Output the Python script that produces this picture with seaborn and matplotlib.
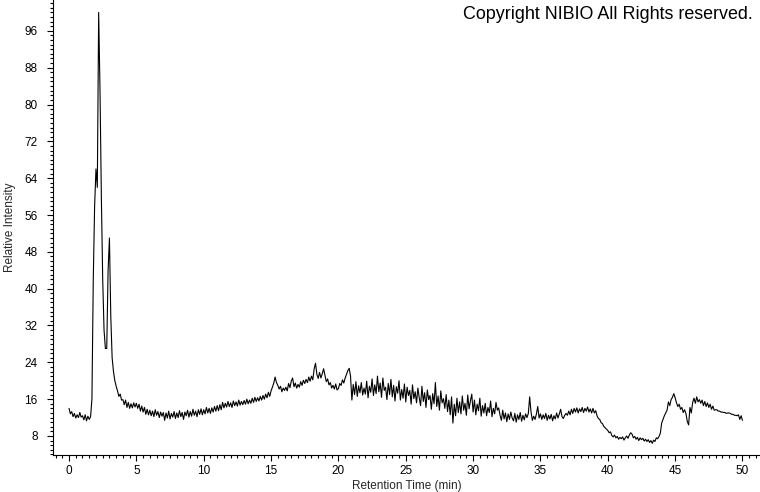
import numpy as np
import pandas as pd
import seaborn as sns
import matplotlib.pyplot as plt
from matplotlib.ticker import MultipleLocator

# retention time grid of the detector (0.1 min steps, 0 .. 50 min)
time_min = np.round(np.arange(0, 50.05, 0.1), 1)

# relative intensity, one row per minute
intensity = [
    14.0, 12.8, 13.3, 12.2, 12.9, 11.9, 12.6, 12.0, 13.1, 12.1,   # 0
    12.4, 11.5, 12.6, 11.3, 12.3, 11.6, 12.2, 16.0, 42.0, 58.0,   # 1
    66.0, 62.0, 100.0, 83.0, 60.0, 42.0, 31.0, 27.0, 27.0, 44.0,  # 2
    51.0, 34.0, 25.0, 22.0, 20.0, 18.8, 17.8, 16.6, 17.1, 15.8,   # 3
    15.9, 14.8, 15.8, 14.2, 15.3, 14.0, 15.0, 14.1, 15.2, 14.3,   # 4
    15.1, 14.0, 14.9, 13.4, 14.5, 13.2, 14.2, 12.7, 13.8, 12.6,   # 5
    13.6, 12.4, 13.4, 12.2, 13.7, 12.5, 13.3, 12.0, 13.2, 12.3,   # 6
    13.1, 11.4, 13.0, 11.9, 13.4, 11.7, 12.9, 12.1, 13.3, 11.8,   # 7
    13.0, 12.0, 13.5, 12.2, 13.1, 11.6, 13.2, 12.4, 13.6, 12.1,   # 8
    13.3, 12.3, 13.8, 12.5, 13.4, 12.2, 13.7, 12.7, 13.9, 12.6,   # 9
    13.7, 12.8, 14.2, 13.0, 14.0, 12.9, 14.1, 13.2, 14.4, 13.4,   # 10
    14.6, 13.5, 14.8, 13.7, 15.3, 14.1, 15.1, 14.3, 15.5, 14.4,   # 11
    15.2, 14.2, 15.6, 14.6, 15.4, 14.5, 15.8, 14.7, 15.5, 14.8,   # 12
    15.7, 14.9, 16.0, 15.0, 15.8, 15.1, 16.2, 15.3, 16.4, 15.5,   # 13
    16.3, 15.6, 16.6, 15.8, 16.8, 16.0, 17.1, 16.3, 17.5, 16.6,   # 14
    17.8, 18.6, 19.5, 20.8, 19.6, 19.0, 18.2, 18.8, 17.6, 18.4,   # 15
    17.9, 18.6, 17.8, 19.4, 18.5, 19.9, 20.6, 18.7, 19.5, 18.4,   # 16
    19.2, 18.6, 19.8, 19.0, 20.1, 19.4, 20.3, 19.6, 20.8, 19.9,   # 17
    21.0, 20.2, 22.6, 23.8, 21.4, 20.5, 21.8, 20.6, 21.5, 22.6,   # 18
    21.2, 19.8, 20.4, 19.1, 19.6, 18.4, 19.0, 18.2, 19.3, 18.0,   # 19
    18.3, 19.4, 19.0, 20.2, 19.5, 20.6, 21.4, 22.2, 22.7, 21.0,   # 20
    15.8, 19.2, 17.0, 19.8, 16.6, 18.9, 17.4, 19.6, 16.9, 18.4,   # 21
    17.1, 19.9, 16.3, 18.8, 17.5, 20.4, 16.8, 19.1, 17.2, 21.0,   # 22
    17.6, 19.5, 16.4, 20.6, 17.9, 18.6, 15.9, 19.4, 17.0, 20.3,   # 23
    16.5, 19.0, 15.6, 18.7, 17.3, 20.0, 15.8, 18.1, 16.2, 19.3,   # 24
    15.4, 18.6, 16.8, 17.9, 14.9, 19.1, 16.1, 17.6, 15.2, 18.4,   # 25
    16.3, 14.6, 18.8, 15.5, 17.4, 14.2, 18.0, 15.9, 16.8, 13.8,   # 26
    17.2, 15.0, 19.6, 14.4, 16.7, 13.6, 17.8, 15.2, 16.1, 14.0,   # 27
    17.0, 13.3, 15.8, 12.6, 16.5, 10.8, 14.9, 12.4, 16.2, 13.1,   # 28
    15.4, 12.8, 16.7, 13.6, 15.1, 12.5, 16.9, 13.9, 15.6, 17.1,   # 29
    13.2, 15.8, 12.6, 14.9, 13.5, 16.2, 12.3, 14.6, 13.0, 15.1,   # 30
    12.4, 14.2, 13.1, 15.6, 12.2, 14.0, 12.8, 15.3, 13.6, 14.1,   # 31
    12.5, 11.4, 13.6, 11.7, 13.0, 11.1, 12.8, 11.6, 13.2, 11.9,   # 32
    11.3, 12.9, 11.0, 12.6, 11.6, 13.1, 11.2, 12.5, 11.5, 12.8,   # 33
    12.0, 12.9, 16.5, 13.2, 11.4, 12.3, 11.6, 12.8, 14.4, 11.9,   # 34
    12.8, 11.6, 12.6, 11.8, 12.9, 11.4, 12.5, 11.7, 12.7, 11.3,   # 35
    12.4, 11.7, 13.0, 11.9, 12.8, 13.8, 12.2, 11.8, 12.5, 12.9,   # 36
    12.5, 13.4, 12.6, 13.8, 12.9, 14.0, 13.2, 14.1, 13.0, 13.9,   # 37
    13.3, 14.2, 13.1, 14.0, 13.4, 14.3, 13.2, 13.9, 13.0, 14.0,   # 38
    13.0, 13.5, 12.4, 11.8, 11.6, 10.9, 10.7, 10.1, 9.8, 9.5,     # 39
    9.2, 8.7, 8.9, 8.1, 7.8, 8.2, 7.6, 7.9, 7.3, 7.7,             # 40
    7.4, 7.8, 7.1, 7.6, 8.0, 7.5, 8.2, 8.7, 8.4, 7.6,             # 41
    7.9, 7.3, 7.7, 7.0, 7.6, 7.2, 7.5, 6.9, 7.3, 6.8,             # 42
    7.2, 6.6, 7.0, 6.4, 7.1, 6.8, 7.6, 7.4, 7.9, 8.6,             # 43
    10.8, 11.6, 12.4, 13.0, 13.6, 15.4, 14.6, 15.9, 16.4, 17.2,   # 44
    16.3, 15.2, 14.4, 14.9, 13.8, 14.2, 13.1, 13.7, 12.9, 11.2,   # 45
    10.4, 14.2, 13.0, 15.3, 16.2, 15.1, 16.5, 15.4, 15.9, 15.1,   # 46
    15.8, 14.6, 15.5, 14.4, 15.2, 14.2, 14.9, 13.8, 14.5, 13.6,   # 47
    13.7, 13.7, 13.4, 13.4, 13.2, 13.2, 13.1, 13.1, 12.9, 13.0,   # 48
    13.0, 12.9, 12.7, 12.7, 12.5, 12.5, 12.4, 12.6, 11.6, 12.4,   # 49
    11.4,                                                         # 50
]

x_ticks = [0, 5, 10, 15, 20, 25, 30, 35, 40, 45, 50]
y_ticks = [8, 16, 24, 32, 40, 48, 56, 64, 72, 80, 88, 96]

df = pd.DataFrame({"time": time_min, "intensity": intensity})

sns.set_style("ticks")
plt.rcParams['font.family'] = ['Liberation Sans', 'DejaVu Sans']

fig = plt.figure(figsize=(7.6, 4.92), dpi=100)
ax = fig.add_axes([53 / 760, 37 / 492, 707 / 760, 455 / 492])

sns.lineplot(data=df, x="time", y="intensity", color="black",
             linewidth=0.8, ax=ax)

ax.set_xlim(-1.19, 51.3)
ax.set_ylim(3.87, 102.7)
ax.set_xticks(x_ticks)
ax.set_yticks(y_ticks)
ax.xaxis.set_minor_locator(MultipleLocator(0.5))
ax.yaxis.set_minor_locator(MultipleLocator(1))

for side in ["top", "right"]:
    ax.spines[side].set_visible(False)
for side in ["left", "bottom"]:
    ax.spines[side].set_linewidth(0.8)
    ax.spines[side].set_color("black")

ax.tick_params(which="major", length=4, width=0.8, color="black",
               labelsize=8.5, labelcolor="black")
ax.tick_params(which="minor", length=2.3, width=0.8, color="black")
ax.tick_params(axis="y", which="major", pad=7)
ax.tick_params(axis="x", which="major", pad=3)

ax.set_xlabel("Retention Time (min)", fontsize=8.5, labelpad=2.5)
ax.set_ylabel("Relative Intensity", fontsize=8.5, labelpad=6)

fig.text(0.991, 0.988, "Copyright NIBIO All Rights reserved.",
         ha="right", va="top", fontsize=12.9, color="black")

fig.savefig("out.png", dpi=100)
